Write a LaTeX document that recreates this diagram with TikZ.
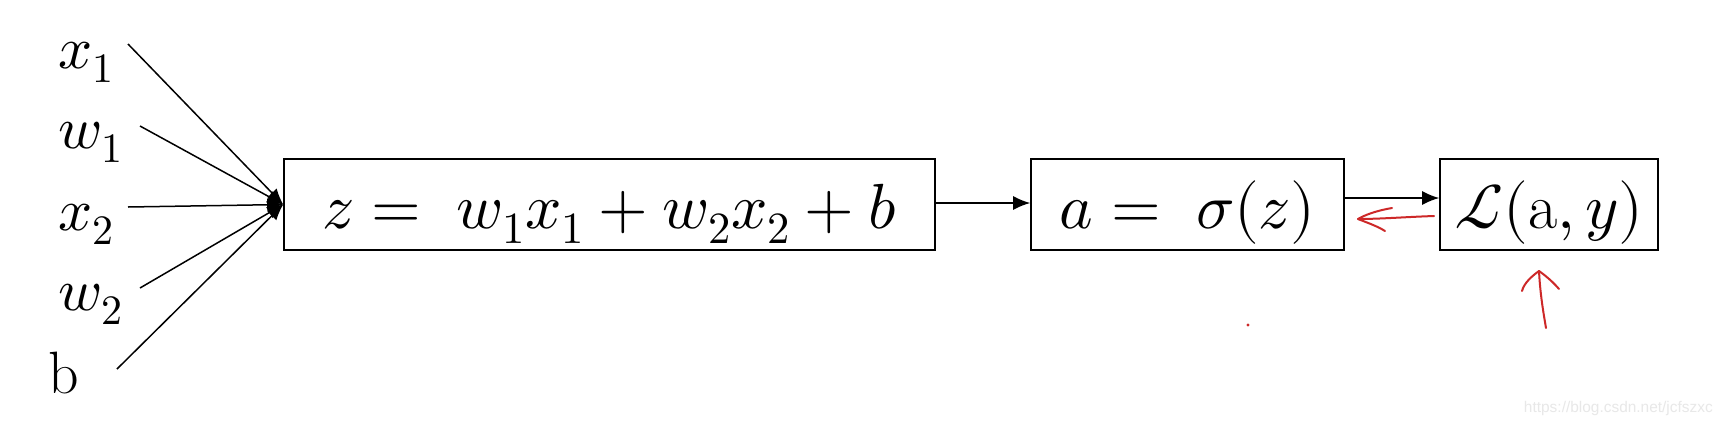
\documentclass[tikz,border=0pt]{standalone}
\usepackage{fontspec}
\usepackage{unicode-math}
\setmathfont{Latin Modern Math}
\newfontfamily\wmfont{Liberation Sans}
\usetikzlibrary{arrows.meta}
\definecolor{pen}{RGB}{205,40,40}
\definecolor{wm}{RGB}{232,232,232}
\begin{document}
\begin{tikzpicture}[x=1bp,y=-1bp,
  box/.style={draw, line width=1.6bp, inner xsep=0pt, inner ysep=0pt,
    text height=69bp, text depth=22bp, font=\fontsize{64}{70}\selectfont},
  inlabel/.style={inner sep=0pt, anchor=base west, font=\fontsize{60}{66}\selectfont},
  inline/.style={line width=1.5bp, -{Latex[length=16bp,width=13bp]}},
  flow/.style={line width=1.5bp, -{Latex[length=17bp,width=14bp]}},
  redpen/.style={draw=pen, line width=2bp, line cap=round, line join=round}]
\fill[white] (0,0) rectangle (1724,427);
\useasboundingbox (0,0) rectangle (1724,427);

% boxes
\node[box, minimum width=651bp] (b1) at (609.5,204.5) {$z = \; w_1x_1 + w_2x_2 + b$};
\node[box, minimum width=313bp] (b2) at (1187.5,204.5) {$a = \; \sigma(z)$};
\node[box, minimum width=218bp] (b3) at (1549,204.5) {$\mathcal{L}(\mathrm{a}, y)$};

% input labels
\node[inlabel] (lx1) at (58,68) {$x_1$};
\node[inlabel] (lw1) at (58,148) {$w_1$};
\node[inlabel] (lx2) at (58,230) {$x_2$};
\node[inlabel] (lw2) at (58,310) {$w_2$};
\node[inlabel] (lb) at (48,393) {b};

% line start points
\coordinate (sx1) at (128,44);
\coordinate (sw1) at (140,126);
\coordinate (sx2) at (128,207);
\coordinate (sw2) at (140,288);
\coordinate (sb) at (117,369);
\coordinate (tip) at (b1.west);

\foreach \s in {sx1,sw1,sx2,sw2,sb}
  \draw[inline] (\s) -- (tip);

% flow arrows
\draw[flow] ([yshift=1.5bp]b1.east) -- ([yshift=1.5bp]b2.west);
\draw[flow] ([yshift=6.5bp]b2.east) -- ([yshift=6.5bp]b3.west);

% red hand-drawn arrows
\coordinate (rl0) at (1434,216);
\coordinate (rl1) at (1358,219);
\draw[redpen] (rl0) .. controls (1405,217) and (1380,219) .. (rl1);
\draw[redpen] (1392,208) .. controls (1375,211) and (1365,215) .. (rl1)
  .. controls (1368,223) and (1377,226) .. (1385,231);

\coordinate (ru0) at (1546,328);
\coordinate (ru1) at (1539,271);
\draw[redpen] (ru0) .. controls (1542,305) and (1540,290) .. (ru1);
\draw[redpen] (1522,291) .. controls (1524,283) and (1532,276) .. (ru1)
  .. controls (1546,276) and (1553,282) .. (1559,289);

\fill[pen] (1248,325) circle (1.6bp);

% watermark
\node[inner sep=0pt, anchor=base east, text=wm, font=\wmfont\fontsize{15.5}{17}\selectfont] (wmk) at (1713,412) {https://blog.csdn.net/jcfszxc};
\end{tikzpicture}
\end{document}
